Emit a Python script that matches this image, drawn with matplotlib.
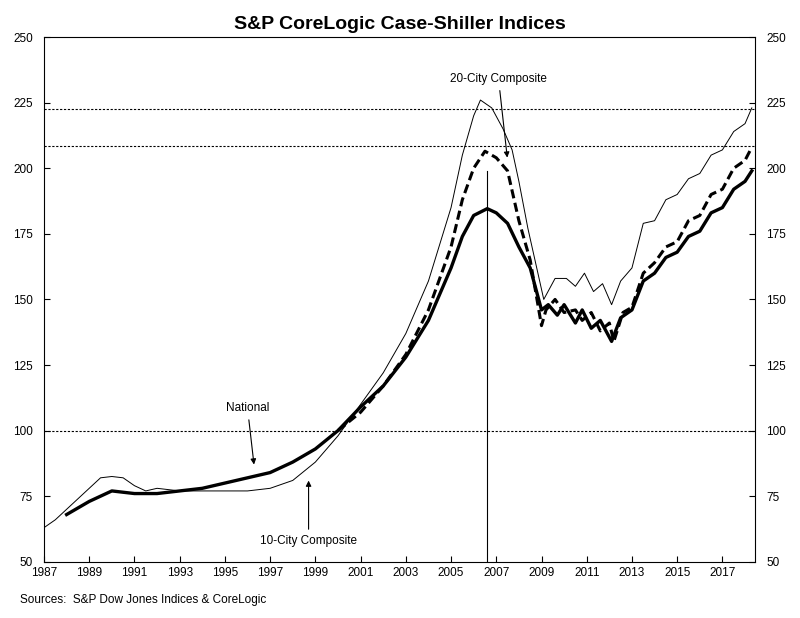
import numpy as np
import matplotlib.pyplot as plt

plt.rcParams['font.family'] = ['Liberation Sans', 'DejaVu Sans']
plt.rcParams['font.size'] = 8.5

# 10-City Composite (thin)
c10_x = [1987.0, 1987.5, 1988.0, 1988.5, 1989.0, 1989.5, 1990.0, 1990.5, 1991.0, 1991.5, 1992.0, 1993.0,
         1994.0, 1995.0, 1996.0, 1997.0, 1998.0, 1999.0, 2000.0, 2001.0, 2002.0, 2003.0, 2004.0,
         2005.0, 2005.5, 2006.0, 2006.3, 2006.8, 2007.3, 2007.7, 2008.0, 2008.4, 2009.1, 2009.6,
         2010.1, 2010.5, 2010.9, 2011.3, 2011.7, 2012.1, 2012.5, 2013.0, 2013.5, 2014.0, 2014.5,
         2015.0, 2015.5, 2016.0, 2016.5, 2017.0, 2017.5, 2018.0, 2018.3]
c10_y = [63, 66, 70, 74, 78, 82, 82.5, 82, 79, 77, 78, 77,
         77, 77, 77, 78, 81, 88, 98, 110, 122, 137, 157,
         185, 205, 220, 226, 223, 215, 207, 195, 177, 150, 158,
         158, 155, 160, 153, 156, 148, 157, 162, 179, 180, 188,
         190, 196, 198, 205, 207, 214, 217, 223]

# 20-City Composite (dashed)
c20_x = [2000.0, 2001.0, 2002.0, 2003.0, 2004.0, 2005.0, 2005.5, 2006.0, 2006.5, 2007.0, 2007.5,
         2008.0, 2008.5, 2009.0, 2009.2, 2009.6, 2010.0, 2010.5, 2010.8, 2011.2, 2011.6, 2012.0,
         2012.2, 2012.6, 2013.0, 2013.5, 2014.0, 2014.5, 2015.0, 2015.5, 2016.0, 2016.5, 2017.0,
         2017.5, 2018.0, 2018.3]
c20_y = [100, 107, 117, 129, 146, 170, 188, 200, 206.5, 204, 199,
         180, 165, 140, 146, 150, 145, 146, 142, 145, 138, 141,
         134, 145, 147, 160, 164, 170, 172, 180, 182, 190, 192,
         200, 203, 208]

# National (thick)
nat_x = [1988.0, 1989.0, 1990.0, 1991.0, 1992.0, 1993.0, 1994.0, 1995.0, 1996.0, 1997.0, 1998.0,
         1999.0, 2000.0, 2001.0, 2002.0, 2003.0, 2004.0, 2005.0, 2005.5, 2006.0, 2006.6, 2007.0,
         2007.5, 2008.0, 2008.5, 2009.0, 2009.3, 2009.7, 2010.0, 2010.5, 2010.8, 2011.2, 2011.6,
         2012.1, 2012.5, 2013.0, 2013.5, 2014.0, 2014.5, 2015.0, 2015.5, 2016.0, 2016.5, 2017.0,
         2017.5, 2018.0, 2018.3]
nat_y = [68, 73, 77, 76, 76, 77, 78, 80, 82, 84, 88,
         93, 100, 109, 117, 128, 142, 162, 174, 182, 184.6, 183,
         179, 170, 162, 146, 148, 144, 148, 141, 146, 139, 142,
         134, 143, 146, 157, 160, 166, 168, 174, 176, 183, 185,
         192, 195, 199]

ref_lines = [100, 208.5, 222.5]
peak_year = 2006.57

fig = plt.figure(figsize=(8, 6.18), dpi=100)
ax = fig.add_axes([0.055, 0.091, 0.889, 0.849])
ax.set_title('S&P CoreLogic Case-Shiller Indices', weight='bold', fontsize=14, pad=6)

for r in ref_lines:
    ax.axhline(r, color='black', lw=0.8, ls=(0, (2, 1.5)))
ax.plot(c10_x, c10_y, color='black', lw=0.7)
ax.plot(c20_x, c20_y, color='black', lw=2.2, ls=(0, (3, 1.5)))
ax.plot(nat_x, nat_y, color='black', lw=2.4)
ax.plot([peak_year, peak_year], [50, max(nat_y)], color='black', lw=0.8)

ap = dict(arrowstyle='-|>', color='black', lw=0.8, mutation_scale=8)
ax.annotate('National', xy=(1996.3, 86), xytext=(1996.0, 108.5), ha='center', va='center', arrowprops=ap)
ax.annotate('10-City Composite', xy=(1998.7, 82), xytext=(1998.7, 58), ha='center', va='center', arrowprops=ap)
ax.annotate('20-City Composite', xy=(2007.5, 203), xytext=(2007.1, 234), ha='center', va='center', arrowprops=ap)

ax.set_xlim(1987, 2018.45)
ax.set_ylim(50, 250)
ax.set_xticks(np.arange(1987, 2018, 2))
ax.set_yticks(np.arange(50, 251, 25))
ax.tick_params(direction='in', length=4, right=True, labelright=True)
ax.tick_params(axis='y', pad=8)
for s in ax.spines.values():
    s.set_linewidth(0.8)

fig.text(0.025, 0.025, 'Sources:  S&P Dow Jones Indices & CoreLogic', fontsize=8.5)
plt.savefig('out.png', dpi=100)
